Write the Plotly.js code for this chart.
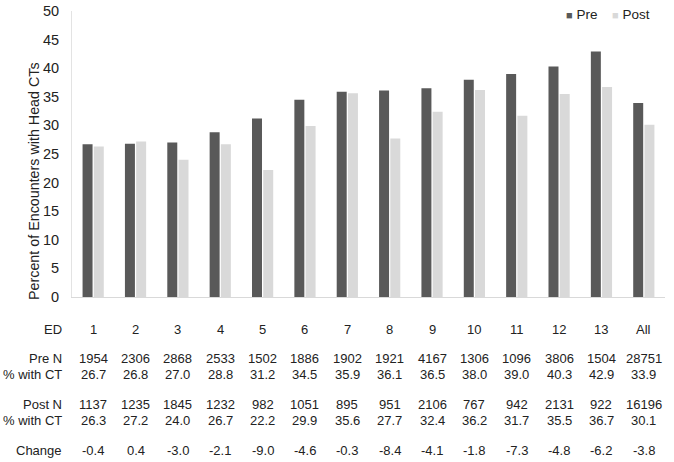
<!DOCTYPE html>
<html>
<head>
<meta charset="utf-8">
<script src="https://cdn.plot.ly/plotly-3.0.1.min.js"></script>
<style>
  body { margin: 0; background: #fff; }
  #chart { width: 674px; height: 462px; }
</style>
</head>
<body>
<div id="chart"></div>
<script>
var eds = ['1', '2', '3', '4', '5', '6', '7', '8', '9', '10', '11', '12', '13', 'All'];
var preN = [1954, 2306, 2868, 2533, 1502, 1886, 1902, 1921, 4167, 1306, 1096, 3806, 1504, 28751];
var prePct = [26.7, 26.8, 27.0, 28.8, 31.2, 34.5, 35.9, 36.1, 36.5, 38.0, 39.0, 40.3, 42.9, 33.9];
var postN = [1137, 1235, 1845, 1232, 982, 1051, 895, 951, 2106, 767, 942, 2131, 922, 16196];
var postPct = [26.3, 27.2, 24.0, 26.7, 22.2, 29.9, 35.6, 27.7, 32.4, 36.2, 31.7, 35.5, 36.7, 30.1];
var change = [-0.4, 0.4, -3.0, -2.1, -9.0, -4.6, -0.3, -8.4, -4.1, -1.8, -7.3, -4.8, -6.2, -3.8];

var preColor = '#595959', postColor = '#d9d9d9';

// plot area in pixels (used to place the table rows under it)
var top_ = 11, bottom_ = 297, left_ = 72, right_ = 665;
var H = bottom_ - top_, W = right_ - left_;
function py(pix) { return (bottom_ - pix) / H; }
function px(pix) { return (pix - left_) / W; }

var font = {family: 'Liberation Sans, Arial, sans-serif', size: 13, color: '#222'};

var traces = [
  {x: eds, y: prePct, type: 'bar', name: 'Pre', marker: {color: preColor}, hoverinfo: 'none'},
  {x: eds, y: postPct, type: 'bar', name: 'Post', marker: {color: postColor}, hoverinfo: 'none'}
];

var annotations = [];
function row(label, yp, values) {
  annotations.push({xref: 'paper', yref: 'paper', x: px(64), y: py(yp), text: label,
    showarrow: false, xanchor: 'right', yanchor: 'middle', font: font});
  for (var i = 0; i < eds.length; i++) {
    // category axis: annotation x is the category index
    annotations.push({xref: 'x', yref: 'paper', x: i, y: py(yp), text: values[i],
      showarrow: false, xanchor: 'center', yanchor: 'middle', font: font});
  }
}
row('ED', 329, eds);
row('Pre N', 359, preN.map(String));
row('% with CT', 374, prePct.map(function (v) { return v.toFixed(1); }));
row('Post N', 405, postN.map(String));
row('% with CT', 420, postPct.map(function (v) { return v.toFixed(1); }));
row('Change', 450, change.map(function (v) { return v.toFixed(1); }));

// y axis title
annotations.push({xref: 'paper', yref: 'paper', x: px(34), y: py(181), text: 'Percent of Encounters with Head CTs',
  textangle: -90, showarrow: false, xanchor: 'center', yanchor: 'middle',
  font: {family: font.family, size: 14.3, color: '#222'}});

// legend (small squares like the original)
annotations.push({xref: 'paper', yref: 'paper', x: px(564), y: py(15), showarrow: false,
  xanchor: 'left', yanchor: 'middle', font: {family: font.family, size: 13.5, color: '#222'},
  text: '<span style="color:' + preColor + ';font-size:11px">■</span> Pre'});
annotations.push({xref: 'paper', yref: 'paper', x: px(610), y: py(15), showarrow: false,
  xanchor: 'left', yanchor: 'middle', font: {family: font.family, size: 13.5, color: '#222'},
  text: '<span style="color:' + postColor + ';font-size:11px">■</span> Post'});

var layout = {
  width: 674, height: 462,
  margin: {l: left_, r: 674 - right_, t: top_, b: 462 - bottom_},
  paper_bgcolor: '#fff', plot_bgcolor: '#fff',
  barmode: 'group', bargap: 0.47, bargroupgap: 0.11,
  showlegend: false,
  xaxis: {type: 'category', showticklabels: false, ticks: '', showline: true, linecolor: '#d9d9d9', linewidth: 1,
    showgrid: false, zeroline: false},
  yaxis: {range: [0, 50], dtick: 5, showline: true, linecolor: '#e3e3e3', linewidth: 1,
    showgrid: false, zeroline: false, ticks: '', ticklen: 0, ticklabelstandoff: 9,
    tickfont: {family: font.family, size: 14.5, color: '#222'}},
  annotations: annotations
};

Plotly.newPlot('chart', traces, layout, {displayModeBar: false, staticPlot: true});
</script>
</body>
</html>
